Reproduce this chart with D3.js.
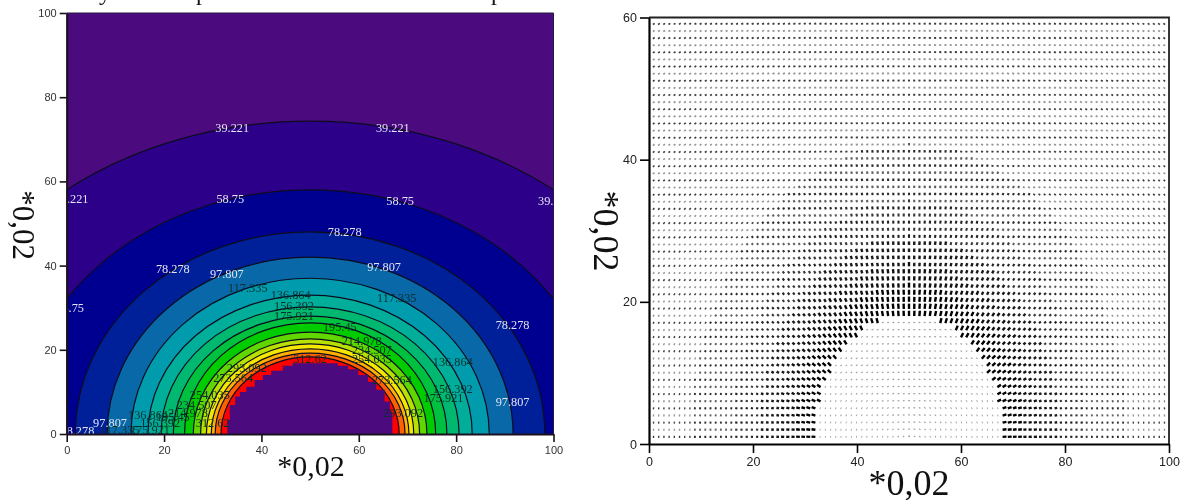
<!DOCTYPE html>
<html>
<head>
<meta charset="utf-8">
<script src="https://cdn.jsdelivr.net/npm/d3@7/dist/d3.min.js"></script>
<style>
html, body { margin: 0; background: #fff; }
svg { display: block; filter: blur(0.45px); }
</style>
</head>
<body>
<div id="graph"></div>
<script>
// contour levels and how far each one reaches, in axis units, from the centre (50,0)
var levels = [39.221, 58.75, 78.278, 97.807, 117.335, 136.864, 156.392, 175.921, 195.45, 214.978, 234.507, 254.035, 273.564, 293.092, 312.62];
var reachX = [80, 60, 48.2, 41.7, 36.8, 33.3, 30.6, 28.1, 25.8, 24, 22.5, 21.3, 20.3, 19.5, 18.3];
var reachY = [74.3, 58, 48, 42, 37, 33, 30.2, 28, 26.4, 24.2, 22.6, 21.4, 20.2, 19.2, 18.3];
var bandColors = ["#2c0088", "#000090", "#00209a", "#0868a8", "#009cae", "#00ae9a", "#00b870", "#00c040", "#00cc00", "#60d800", "#b8e000", "#f5e800", "#ffb000", "#ff6000", "#ff0000"];
var outerColor = "#4b0b7e";

// jagged edge of the hole
var holeX = [33, 33, 33.5, 33.5, 34.6, 35.6, 36.9, 38.6, 40.3, 42, 44.4, 46.4, 53.6, 55.7, 57.8, 59.9, 61.9, 63.6, 65.3, 66.4, 66.9, 66.9];
var holeY = [0, 3.3, 4.9, 6.9, 8.9, 10, 11.2, 12.8, 14, 15, 16.2, 16.8, 16.8, 16.2, 15.4, 14, 12.4, 10.5, 7.7, 5.3, 2.5, 0];

// contour labels
var labelText = ["39.221", "39.221", "39.221", "39.221", "58.75", "58.75", "58.75",
  "78.278", "78.278", "78.278", "78.278", "97.807", "97.807", "97.807", "97.807",
  "117.335", "117.335", "117.335", "136.864", "136.864", "136.864", "156.392", "156.392", "156.392",
  "175.921", "175.921", "175.921", "195.45", "195.45", "214.978", "214.978", "234.507", "234.507",
  "254.035", "254.035", "273.564", "273.564", "293.092", "293.092", "312.62", "312.62"];
var labelX = [34, 67, 1, 100.3, 33.6, 68.5, 0.7, 57.1, 21.8, 91.6, 2.2, 32.9, 65.2, 91.6, 8.9,
  37.2, 67.8, 10.9, 46, 79.3, 16.7, 46.7, 79.3, 19.2, 46.7, 77.4, 17.1, 56.1, 21.8,
  60.6, 24.9, 62.7, 26.7, 62.7, 29.4, 66.8, 34.2, 69.1, 37, 50, 30];
var labelY = [72.7, 72.7, 55.8, 55.3, 55.8, 55.3, 29.9, 48, 39.2, 25.9, 0.7, 38, 39.7, 7.6, 2.6,
  34.7, 32.3, 1, 33, 17.1, 4.5, 30.4, 10.7, 2.6, 28, 8.6, 1, 25.4, 4,
  22.1, 5, 20, 6.9, 18, 9.3, 13, 13.3, 5, 15.7, 17.8, 2.6];

var xTicks = [0, 20, 40, 60, 80, 100];
var leftYTicks = [0, 20, 40, 60, 80, 100];
var rightYTicks = [0, 20, 40, 60];

// right plot: arrow size by distance from the centre
var ringEdge = [20, 22, 25, 29, 34, 42, 120];
var ringLength = [0.75, 0.7, 0.6, 0.5, 0.42, 0.35, 0.26];
var ringColor = ["#000", "#000", "#111", "#1a1a1a", "#222", "#2b2b2b", "#3c3c3c"];
// how much lighter every second row is in each ring
var ringFade = [0, 0, 0, 0, 0.1, 0.25, 0.45];
var holeRadius = 17.9;

var w = 1187, h = 500;
var vis = d3.select("#graph").append("svg").attr("width", w).attr("height", h);

// ---- left plot ----
var x1 = d3.scaleLinear().domain([0, 100]).range([66.7, 553.5]);
var y1 = d3.scaleLinear().domain([0, 100]).range([434, 13]);

vis.append("clipPath").attr("id", "leftClip").append("rect")
  .attr("x", x1(0)).attr("y", y1(100))
  .attr("width", x1(100) - x1(0)).attr("height", y1(0) - y1(100));

var left = vis.append("g").attr("clip-path", "url(#leftClip)");
left.append("rect")
  .attr("x", x1(0)).attr("y", y1(100))
  .attr("width", x1(100) - x1(0)).attr("height", y1(0) - y1(100))
  .attr("fill", outerColor);

left.selectAll("ellipse").data(levels).enter().append("ellipse")
  .attr("cx", x1(50))
  .attr("cy", y1(0))
  .attr("rx", function(d, i) { return x1(50 + reachX[i]) - x1(50); })
  .attr("ry", function(d, i) { return y1(0) - y1(reachY[i]); })
  .attr("fill", function(d, i) { return bandColors[i]; })
  .attr("stroke", "#0c0c20")
  .attr("stroke-width", 1.2);

var holeLine = d3.line()
  .x(function(d) { return x1(d); })
  .y(function(d, i) { return y1(holeY[i]); })
  .curve(d3.curveStepAfter);
left.append("path").attr("d", holeLine(holeX)).attr("fill", outerColor);

left.selectAll("text").data(labelText).enter().append("text")
  .attr("x", function(d, i) { return x1(labelX[i]); })
  .attr("y", function(d, i) { return y1(labelY[i]); })
  .attr("dy", "0.35em")
  .attr("text-anchor", "middle")
  .attr("font-family", "Liberation Serif")
  .attr("font-size", 12.3)
  .attr("fill", function(d) { return +d < 110 ? "#e4e4f4" : "#06302a"; })
  .text(function(d) { return d; });

drawAxes(x1, y1, leftYTicks, "#333", 11, "#1a1020", 2.2, 7, 8);
vis.append("path")
  .attr("d", "M" + x1(0) + "," + y1(100) + "H" + x1(100) + "V" + y1(0))
  .attr("fill", "none").attr("stroke", "#251a40").attr("stroke-width", 1);

// ---- right plot ----
var x2 = d3.scaleLinear().domain([0, 100]).range([649, 1169]);
var y2 = d3.scaleLinear().domain([0, 60]).range([444, 17.5]);
var gridX = d3.range(1, 100);
var gridY = d3.range(1, 60);

var arrows = [];
gridY.forEach(function(gy, row) {
  gridX.forEach(function(gx) {
    arrows.push({x: gx, y: gy, row: row, r: Math.hypot(gx - 50, gy)});
  });
});

function ringOf(r) { return d3.bisectLeft(ringEdge, r); }
function arrowLen(d) { return d.r < holeRadius ? 0.18 : ringLength[ringOf(d.r)]; }

addBase(vis.append("g"), "line", arrows, "line")
  .attr("x1", function(d) { return x2(d.x); })
  .attr("y1", function(d) { return y2(d.y); })
  .attr("x2", function(d) { return x2(d.x + arrowLen(d) * (d.x - 50) / d.r); })
  .attr("y2", function(d) { return y2(d.y + arrowLen(d) * d.y / d.r); })
  .attr("stroke", function(d) { return d.r < holeRadius ? "#8a8a8a" : ringColor[ringOf(d.r)]; })
  .attr("stroke-width", function(d) { return d.r < holeRadius ? 1.8 : (d.r < 29 ? 2.4 : 2.1); })
  .attr("stroke-opacity", function(d) {
    if (d.r < holeRadius) return 0.8;
    return d.row % 2 ? 1 - ringFade[ringOf(d.r)] : 1;
  });

drawAxes(x2, y2, rightYTicks, "#222", 12.5, "#000", 2.2, 9, 9);
vis.append("path")
  .attr("d", "M" + x2(0) + "," + y2(60) + "H" + x2(100) + "V" + y2(0))
  .attr("fill", "none").attr("stroke", "#222").attr("stroke-width", 1.8);

// ---- axis names ----
addName(311, 476, 30, 0, "*0,02");
addName(909, 495, 36, 0, "*0,02");
addName(13, 225, 31, 90, "*0,02");
addName(594, 231, 36, 90, "*0,02");

// bits of the line above that the crop cut off
vis.append("g").attr("font-family", "Liberation Serif").attr("font-size", 24).attr("fill", "#111")
  .selectAll("text").data([{t: "у", x: 105}, {t: "р", x: 202}, {t: "р", x: 497}]).enter().append("text")
  .attr("x", function(d) { return d.x; })
  .attr("y", 0)
  .attr("text-anchor", "middle")
  .text(function(d) { return d.t; });

function addBase(parent, target, object, tag) {
  return parent.selectAll(target).data(object).enter().append(tag);
}

function drawAxes(xs, ys, yTickValues, textColor, fontSize, lineColor, lineWidth, yTickLen, xTickLen) {
  var ax = vis.append("g")
    .attr("transform", "translate(0," + ys.range()[0] + ")")
    .call(d3.axisBottom(xs).tickValues(xTicks).tickSize(xTickLen).tickSizeOuter(0).tickPadding(4));
  var ay = vis.append("g")
    .attr("transform", "translate(" + xs.range()[0] + ",0)")
    .call(d3.axisLeft(ys).tickValues(yTickValues).tickSize(yTickLen).tickSizeOuter(0).tickPadding(3));
  [ax, ay].forEach(function(a) {
    a.selectAll("path").attr("stroke", lineColor).attr("stroke-width", lineWidth);
    a.selectAll("line").attr("stroke", lineColor).attr("stroke-width", 1.6);
    a.selectAll("text").attr("font-family", "Liberation Sans").attr("font-size", fontSize).attr("fill", textColor);
  });
}

function addName(px, py, size, angle, txt) {
  vis.append("text")
    .attr("transform", "translate(" + px + "," + py + ") rotate(" + angle + ")")
    .attr("text-anchor", "middle")
    .attr("font-family", "Liberation Serif")
    .attr("font-size", size)
    .attr("fill", "#111")
    .text(txt);
}
</script>
</body>
</html>
